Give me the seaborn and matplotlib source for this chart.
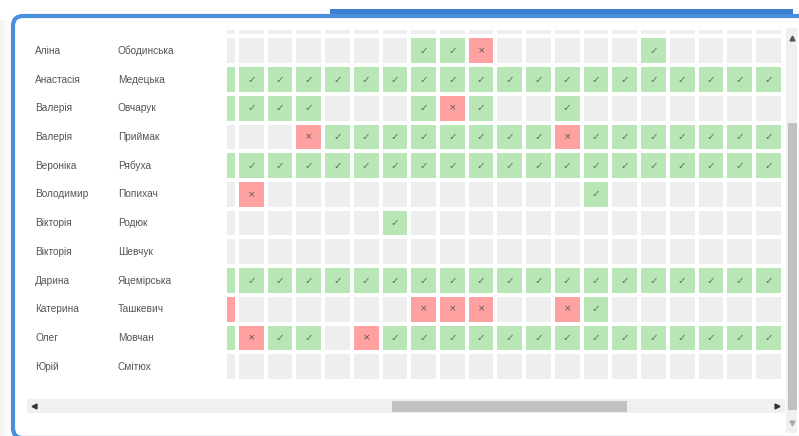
import numpy as np
import pandas as pd
import seaborn as sns
import matplotlib.pyplot as plt
from matplotlib.colors import ListedColormap
from matplotlib.patches import Rectangle, FancyBboxPatch
import matplotlib.transforms as mtransforms

# Імена та прізвища учнів
first_names = ['Аліна', 'Анастасія', 'Валерія', 'Валерія', 'Вероніка', 'Володимир',
               'Вікторія', 'Вікторія', 'Дарина', 'Катерина', 'Олег', 'Юрій']
last_names = ['Ободинська', 'Медецька', 'Овчарук', 'Приймак', 'Рябуха', 'Попихач',
              'Родюк', 'Шевчук', 'Яцемірська', 'Ташкевич', 'Мовчан', 'Смітюх']

# 0 = порожньо, 1 = був (✓), 2 = не був (×)
attendance = [
    [0, 0, 0, 0, 0, 0, 0, 1, 1, 2, 0, 0, 0, 0, 0, 1, 0, 0, 0, 0, 0],
    [1, 1, 1, 1, 1, 1, 1, 1, 1, 1, 1, 1, 1, 1, 1, 1, 1, 1, 1, 1, 1],
    [1, 1, 1, 1, 0, 0, 0, 1, 2, 1, 0, 0, 1, 0, 0, 0, 0, 0, 0, 0, 0],
    [0, 0, 0, 2, 1, 1, 1, 1, 1, 1, 1, 1, 2, 1, 1, 1, 1, 1, 1, 1, 1],
    [1, 1, 1, 1, 1, 1, 1, 1, 1, 1, 1, 1, 1, 1, 1, 1, 1, 1, 1, 1, 1],
    [0, 2, 0, 0, 0, 0, 0, 0, 0, 0, 0, 0, 0, 1, 0, 0, 0, 0, 0, 0, 0],
    [0, 0, 0, 0, 0, 0, 1, 0, 0, 0, 0, 0, 0, 0, 0, 0, 0, 0, 0, 0, 0],
    [0, 0, 0, 0, 0, 0, 0, 0, 0, 0, 0, 0, 0, 0, 0, 0, 0, 0, 0, 0, 0],
    [1, 1, 1, 1, 1, 1, 1, 1, 1, 1, 1, 1, 1, 1, 1, 1, 1, 1, 1, 1, 1],
    [2, 0, 0, 0, 0, 0, 0, 2, 2, 2, 0, 0, 2, 1, 0, 0, 0, 0, 0, 0, 0],
    [1, 2, 1, 1, 0, 2, 1, 1, 1, 1, 1, 1, 1, 1, 1, 1, 1, 1, 1, 1, 1],
    [0, 0, 0, 0, 0, 0, 0, 0, 0, 0, 0, 0, 0, 0, 0, 0, 0, 0, 0, 0, 0],
]
marks = {0: '', 1: '✓', 2: '×'}

W, H = 799, 436
fig = plt.figure(figsize=(W / 100, H / 100), dpi=100)

# фон: рамка, панель, смуги прокрутки (у пікселях)
bg = fig.add_axes([0, 0, 1, 1])
bg.set_xlim(0, W)
bg.set_ylim(H, 0)
bg.axis('off')
for i, a in enumerate([0.10, 0.07, 0.05, 0.03, 0.02]):
    bg.add_patch(Rectangle((i * 2, 20), 2, 416, color='#999999', alpha=a, lw=0))
bg.add_patch(Rectangle((330, 9), 463, 8, color='#3b7fd0', lw=0))
bg.add_patch(FancyBboxPatch((13, 16), 840, 422, boxstyle='round,pad=0,rounding_size=10',
                            fc='white', ec='#4a8fdb', lw=3))
# вертикальна прокрутка
bg.add_patch(Rectangle((786, 28), 11, 405, color='#f0f0f0', lw=0))
bg.add_patch(Rectangle((788, 123), 9, 287, color='#c1c1c1', lw=0))
bg.plot([791.5], [38], marker='^', ms=3.5, color='#555555')
bg.plot([791.5], [423], marker='v', ms=3.5, color='#aaaaaa')
# горизонтальна прокрутка
bg.add_patch(Rectangle((27, 399), 758, 14, color='#f0f0f0', lw=0))
bg.add_patch(Rectangle((392, 401), 235, 11, color='#c1c1c1', lw=0))
bg.plot([34], [406], marker='<', ms=3.5, color='#333333')
bg.plot([777], [406], marker='>', ms=3.5, color='#333333')

# таблиця відвідування
grid = pd.DataFrame([[0] * len(attendance[0])] + attendance,
                    index=[''] + last_names)
labels = grid.apply(lambda col: col.map(marks))

ax = fig.add_axes([227 / W, 1 - 382 / H, (785 - 227) / W, (382 - 30) / H])
cmap = ListedColormap(['#eeeeee', '#b8e6b5', '#ffa1a1'])
sns.heatmap(grid, ax=ax, cmap=cmap, vmin=-0.5, vmax=2.5, cbar=False,
            linewidths=1.5, linecolor='white', annot=labels, fmt='',
            annot_kws={'color': '#6a6a6a', 'fontsize': 7.5, 'family': 'DejaVu Sans'},
            xticklabels=False, yticklabels=False)

px = 28.72
x0, x1 = 1 - 10 / px, 1 + 548 / px
ax.set_xlim(x0, x1)
ax.set_ylim(13 + 1 / px, 1 - 6.5 / px)
for t in ax.texts:
    t.set_clip_on(True)
    if not (x0 < t.get_position()[0] < x1):
        t.set_visible(False)
    if t.get_text() == '×':
        t.set_fontsize(6.5)
        t.set_color('#555555')
ax.set_xlabel('')
ax.set_ylabel('')
ax.tick_params(length=0)

tr = mtransforms.blended_transform_factory(fig.transFigure, ax.transData)
for i, (fn, ln) in enumerate(zip(first_names, last_names)):
    y = i + 1.5
    ax.text(35 / W, y, fn, transform=tr, ha='left', va='center', fontsize=7.3,
            color='#555555', family='Liberation Sans', clip_on=False)
    ax.text(118 / W, y, ln, transform=tr, ha='left', va='center', fontsize=7.3,
            color='#555555', family='Liberation Sans', clip_on=False)

fig.savefig('out.png', dpi=100)
